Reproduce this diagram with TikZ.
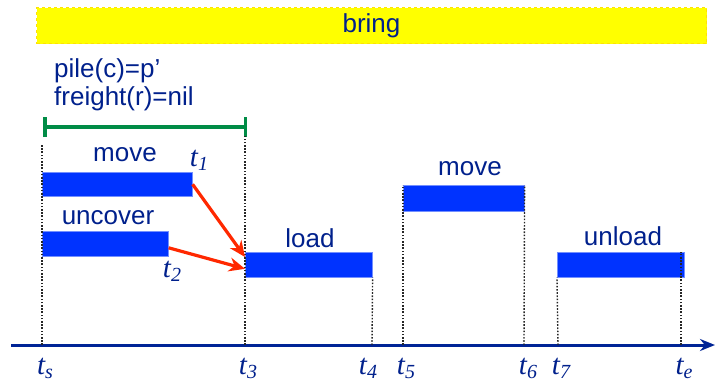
\documentclass[tikz,border=0pt]{standalone}
\usepackage{fontspec}
\setmainfont{Liberation Sans}
\newfontfamily\timefont{Liberation Serif}
\usetikzlibrary{arrows.meta, positioning}
\definecolor{textnavy}{RGB}{0, 32, 140}
\definecolor{axisnavy}{RGB}{0, 36, 150}
\definecolor{barblue}{RGB}{0, 51, 255}
\definecolor{arrowred}{RGB}{255, 40, 0}
\definecolor{stategreen}{RGB}{0, 140, 70}
\definecolor{taskyellow}{RGB}{255, 255, 0}
\newcommand{\tsub}[1]{t\raisebox{-4pt}{\fontsize{20}{20}\selectfont #1}}
\tikzset{
  >=Stealth,
  actbar/.style={draw=barblue!55!white, line width=0.6pt, fill=barblue, inner sep=0pt, minimum height=25pt, anchor=north west},
  actlabel/.style={text=textnavy, font=\fontsize{26}{28}\selectfont, inner sep=0pt},
  timelabel/.style={text=textnavy, font=\timefont\itshape\fontsize{29}{30}\selectfont, inner sep=0pt},
  timeline/.style={dash pattern=on 1.6pt off 1.6pt, line width=1.4pt, black!85},
  precarrow/.style={-{Stealth[length=16pt, width=14pt]}, line width=3.2pt, arrowred},
  axisarrow/.style={-{Stealth[length=15pt, width=12pt]}, line width=3pt, axisnavy},
  stateline/.style={{Bar[width=20pt]}-{Bar[width=20pt]}, line width=3.5pt, stategreen}
}
\begin{document}
\begin{tikzpicture}[x=1pt, y=-1pt]
    \useasboundingbox (0,0) rectangle (715,383);

    % task and its condition
    \node (task) [fill=taskyellow, draw=yellow!85!orange, dashed, line width=1pt, minimum width=670pt, minimum height=36pt, anchor=north west, text=textnavy, font=\fontsize{26}{28}\selectfont] at (36,7) {bring};
    \node (cond) [actlabel, align=left, anchor=north west] at (54,58) {pile(c)=p’\\freight(r)=nil};
    \coordinate (cs) at (43,127);
    \coordinate (ce) at (247,127);
    \draw[stateline] (cs) -- (ce);

    % actions
    \node (mv1) [actbar, minimum width=150pt, minimum height=24pt] at (42,172) {};
    \node (unc) [actbar, minimum width=126pt] at (42,231) {};
    \node (ld) [actbar, minimum width=127pt] at (245,252) {};
    \node (mv2) [actbar, minimum width=121pt, minimum height=26pt] at (403,185) {};
    \node (unl) [actbar, minimum width=127pt] at (557,252) {};

    \node (mv1lab) [actlabel] at (125,155) {move};
    \node (unclab) [actlabel] at (108,218) {uncover};
    \node (ldlab) [actlabel] at (310,238) {load};
    \node (mv2lab) [actlabel] at (470,169) {move};
    \node (unllab) [actlabel] at (623,236) {unload};

    \node (t1) [timelabel] at (199,160) {\tsub{1}};
    \node (t2) [timelabel] at (172,271) {\tsub{2}};

    % time axis
    \coordinate (ax0) at (11,345);
    \coordinate (ax1) at (715,345);
    \draw[axisarrow] (ax0) -- (ax1);

    \coordinate (as) at (42,345);
    \coordinate (a3) at (245,345);
    \coordinate (a4) at (372,345);
    \coordinate (a5) at (403,345);
    \coordinate (a6) at (524,345);
    \coordinate (a7) at (558,345);
    \coordinate (ae) at (681,345);
    \coordinate (tstop) at (42,145);
    \coordinate (t3top) at (245,136);
    \coordinate (tetop) at (681,252);

    \draw[timeline] (as) -- (tstop);
    \draw[timeline] (a3) -- (t3top);
    \draw[timeline] (a4) -- (ld.south east);
    \draw[timeline] (a5) -- (mv2.north west);
    \draw[timeline] (a6) -- (mv2.north east);
    \draw[timeline] (a7) -- (unl.south west);
    \draw[timeline] (ae) -- (tetop);

    \node (ts) [timelabel] at (45,368) {\tsub{s}};
    \node (t3) [timelabel] at (248,368) {\tsub{3}};
    \node (t4) [timelabel] at (368,368) {\tsub{4}};
    \node (t5) [timelabel] at (406,368) {\tsub{5}};
    \node (t6) [timelabel] at (528,368) {\tsub{6}};
    \node (t7) [timelabel] at (561,368) {\tsub{7}};
    \node (te) [timelabel] at (684,368) {\tsub{e}};

    % precedence
    \draw[precarrow] (mv1.east) -- ([yshift=-5pt]ld.north west);
    \draw[precarrow] ([yshift=-4pt]unc.east) -- ([yshift=-4pt]ld.west);
\end{tikzpicture}
\end{document}
